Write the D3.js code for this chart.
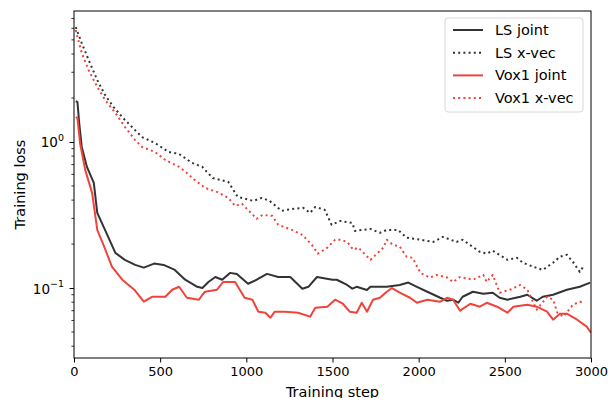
<!DOCTYPE html>
<html>
<head>
<meta charset="utf-8">
<script src="https://cdn.jsdelivr.net/npm/d3@7"></script>
<style>
  html, body { margin: 0; padding: 0; background: #fff; }
  svg { display: block; font-family: "DejaVu Sans", sans-serif; }
</style>
</head>
<body>
<div id="chart"></div>
<script>
// values: [training step, loss]
const lsJoint = [
  [10, 1.9], [20, 1.88], [30, 1.35], [45, 0.924], [75, 0.675], [115, 0.524], [135, 0.327],
  [180, 0.25], [240, 0.174], [295, 0.156], [355, 0.144], [405, 0.138], [465, 0.147],
  [520, 0.144], [585, 0.133], [645, 0.114], [715, 0.102], [745, 0.1], [780, 0.11],
  [820, 0.119], [860, 0.114], [905, 0.127], [945, 0.125], [1010, 0.107], [1060, 0.114],
  [1120, 0.125], [1185, 0.119], [1255, 0.119], [1325, 0.0989], [1360, 0.102], [1410, 0.119],
  [1500, 0.114], [1525, 0.114], [1585, 0.105], [1615, 0.099], [1640, 0.102], [1700, 0.097],
  [1720, 0.102], [1815, 0.102], [1890, 0.105], [1940, 0.109], [1990, 0.102], [2050, 0.0943],
  [2125, 0.0858], [2165, 0.0819], [2200, 0.0832], [2230, 0.0793], [2255, 0.0872],
  [2315, 0.0943], [2375, 0.0914], [2430, 0.0929], [2470, 0.0858], [2515, 0.0832],
  [2590, 0.0872], [2630, 0.09], [2685, 0.0819], [2720, 0.0872], [2780, 0.09],
  [2860, 0.0974], [2935, 0.102], [2995, 0.109]
]
const lsXvec = [
  [10, 6.11], [45, 4.75], [85, 3.64], [135, 2.65], [180, 2.1], [230, 1.73], [280, 1.48],
  [335, 1.27], [395, 1.08], [470, 0.984], [550, 0.854], [610, 0.828], [685, 0.719],
  [745, 0.675], [760, 0.644], [805, 0.567], [895, 0.533], [950, 0.421], [1040, 0.395],
  [1090, 0.414], [1135, 0.395], [1205, 0.338], [1265, 0.348], [1330, 0.354], [1370, 0.327],
  [1400, 0.359], [1455, 0.343], [1495, 0.271], [1545, 0.288], [1615, 0.279], [1630, 0.246],
  [1720, 0.254], [1775, 0.239], [1815, 0.25], [1880, 0.25], [1930, 0.221], [2010, 0.214],
  [2085, 0.207], [2140, 0.224], [2220, 0.207], [2255, 0.214], [2355, 0.177], [2395, 0.172],
  [2430, 0.18], [2515, 0.156], [2570, 0.161], [2605, 0.149], [2665, 0.14], [2720, 0.133],
  [2780, 0.149], [2820, 0.164], [2860, 0.169], [2895, 0.151], [2935, 0.129], [2955, 0.14]
]
const vox1Joint = [
  [10, 1.48], [20, 1.46], [35, 0.984], [65, 0.644], [105, 0.448], [135, 0.25], [175, 0.192],
  [220, 0.14], [280, 0.114], [350, 0.0974], [405, 0.0806], [455, 0.0872], [530, 0.0872],
  [570, 0.0974], [610, 0.102], [655, 0.0858], [725, 0.0832], [745, 0.09], [760, 0.0943],
  [830, 0.0974], [865, 0.11], [935, 0.11], [990, 0.0858], [1035, 0.0832], [1070, 0.0689],
  [1110, 0.0678], [1140, 0.0627], [1165, 0.0689], [1225, 0.0689], [1300, 0.0678],
  [1370, 0.0637], [1400, 0.0733], [1470, 0.0745], [1515, 0.0832], [1560, 0.0781],
  [1600, 0.0689], [1640, 0.0678], [1670, 0.0793], [1700, 0.0689], [1735, 0.0832],
  [1775, 0.0858], [1815, 0.0943], [1845, 0.1], [1890, 0.0929], [1950, 0.0858],
  [1990, 0.0793], [2050, 0.0832], [2125, 0.0806], [2165, 0.0858], [2200, 0.0832],
  [2240, 0.07], [2300, 0.0781], [2355, 0.0745], [2395, 0.0793], [2455, 0.0745],
  [2515, 0.0678], [2550, 0.0745], [2630, 0.0769], [2685, 0.0745], [2745, 0.0689],
  [2780, 0.0607], [2820, 0.0667], [2860, 0.0667], [2920, 0.0607], [2975, 0.0544],
  [3000, 0.0495]
]
const vox1Xvec = [
  [10, 5.83], [45, 4.06], [85, 3.1], [135, 2.38], [180, 1.94], [240, 1.58], [295, 1.27],
  [355, 1.03], [395, 0.924], [470, 0.854], [530, 0.753], [610, 0.675], [655, 0.614],
  [700, 0.55], [760, 0.485], [830, 0.455], [895, 0.414], [935, 0.365], [975, 0.377],
  [1060, 0.298], [1095, 0.317], [1150, 0.312], [1185, 0.271], [1265, 0.25], [1325, 0.231],
  [1380, 0.198], [1415, 0.172], [1470, 0.189], [1515, 0.214], [1545, 0.214], [1585, 0.207],
  [1620, 0.183], [1650, 0.189], [1720, 0.156], [1795, 0.189], [1815, 0.214], [1850, 0.198],
  [1890, 0.192], [1930, 0.164], [1965, 0.161], [2010, 0.127], [2065, 0.118], [2105, 0.123],
  [2165, 0.118], [2200, 0.11], [2240, 0.119], [2315, 0.114], [2375, 0.123], [2395, 0.11],
  [2430, 0.123], [2470, 0.0929], [2530, 0.0974], [2590, 0.105], [2630, 0.0974],
  [2685, 0.0711], [2745, 0.0872], [2780, 0.0832], [2805, 0.0678], [2840, 0.0637],
  [2895, 0.0769], [2935, 0.0806], [2955, 0.0793]
]

const seriesNames = ['LS joint', 'LS x-vec', 'Vox1 joint', 'Vox1 x-vec']
const xTicks = [0, 500, 1000, 1500, 2000, 2500, 3000]
const yMajorTicks = [0.1, 1]
const yMajorLabels = ['\u22121', '0'] // exponents of 10
const yDomain = [0.0332, 7.88]

const width = 608
const height = 398
const margin = { top: 11, right: 17, bottom: 40, left: 74 }

const black = '#333333'
const red = '#f0433a'
const series = [
  { name: seriesNames[0], data: lsJoint, color: black, dash: null },
  { name: seriesNames[1], data: lsXvec, color: black, dash: '2,3.2' },
  { name: seriesNames[2], data: vox1Joint, color: red, dash: null },
  { name: seriesNames[3], data: vox1Xvec, color: red, dash: '2,3.2' },
]

const svg = d3.select('#chart').append('svg')
  .attr('width', width)
  .attr('height', height)

const x = d3.scaleLinear().domain([0, 3000]).range([margin.left, width - margin.right])
const y = d3.scaleLog().domain(yDomain).range([height - margin.bottom, margin.top])

// minor ticks for the log axis
const yMinorTicks = []
;[0.01, 0.1, 1].forEach((base) => {
  for (let k = 2; k <= 9; k++) {
    const v = base * k
    if (v >= yDomain[0] && v <= yDomain[1]) yMinorTicks.push(v)
  }
})

// lines (clipped to the axes box)
svg.append('clipPath').attr('id', 'clip')
  .append('rect')
  .attr('x', margin.left).attr('y', margin.top)
  .attr('width', width - margin.left - margin.right)
  .attr('height', height - margin.top - margin.bottom)

const line = d3.line().x((d) => x(d[0])).y((d) => y(d[1]))

svg.append('g').attr('clip-path', 'url(#clip)')
  .selectAll('path')
  .data(series)
  .join('path')
  .attr('d', (d) => line(d.data))
  .attr('fill', 'none')
  .attr('stroke', (d) => d.color)
  .attr('stroke-width', 2)
  .attr('stroke-dasharray', (d) => d.dash)
  .attr('stroke-linejoin', 'round')

// x axis
const xAxis = svg.append('g')
  .attr('transform', `translate(0,${height - margin.bottom})`)
  .call(d3.axisBottom(x).tickValues(xTicks).tickFormat(d3.format('d')).tickSize(4.5).tickPadding(4))
xAxis.select('.domain').remove()
xAxis.selectAll('text').attr('font-size', 13).attr('fill', '#000').attr('font-family', '"DejaVu Sans", sans-serif')
xAxis.selectAll('line').attr('stroke', '#000').attr('stroke-width', 1)

// y axis
const yAxis = svg.append('g')
  .attr('transform', `translate(${margin.left},0)`)
  .call(d3.axisLeft(y).tickValues(yMajorTicks).tickFormat('').tickSize(4.5))
yAxis.select('.domain').remove()
yAxis.selectAll('line').attr('stroke', '#000').attr('stroke-width', 1)

yAxis.selectAll('.minor')
  .data(yMinorTicks)
  .join('line')
  .attr('class', 'minor')
  .attr('x1', -2.6).attr('x2', 0)
  .attr('y1', (d) => y(d)).attr('y2', (d) => y(d))
  .attr('stroke', '#000')
  .attr('stroke-width', 0.8)

const yLabels = svg.append('g')
  .selectAll('text')
  .data(yMajorTicks)
  .join('text')
  .attr('x', margin.left - 10)
  .attr('y', (d) => y(d) + 5.5)
  .attr('text-anchor', 'end')
  .attr('font-size', 13.5)
  .attr('fill', '#000')
yLabels.append('tspan').text('10')
yLabels.append('tspan')
  .attr('dy', -6.5)
  .attr('font-size', 9.5)
  .text((d, i) => yMajorLabels[i])

// frame
svg.append('rect')
  .attr('x', margin.left).attr('y', margin.top)
  .attr('width', width - margin.left - margin.right)
  .attr('height', height - margin.top - margin.bottom)
  .attr('fill', 'none')
  .attr('stroke', '#000')
  .attr('stroke-width', 1)

// axis titles
svg.append('text')
  .attr('x', (margin.left + width - margin.right) / 2)
  .attr('y', 397)
  .attr('text-anchor', 'middle')
  .attr('font-size', 14.5)
  .attr('fill', '#000')
  .text('Training step')

svg.append('text')
  .attr('transform', `translate(25,${(margin.top + height - margin.bottom) / 2}) rotate(-90)`)
  .attr('text-anchor', 'middle')
  .attr('font-size', 14.5)
  .attr('fill', '#000')
  .text('Training loss')

// legend
const legend = svg.append('g').attr('transform', 'translate(445,18)')
legend.append('rect')
  .attr('width', 138).attr('height', 94)
  .attr('rx', 3)
  .attr('fill', 'rgba(255,255,255,0.8)')
  .attr('stroke', '#d8d8d8')
  .attr('stroke-width', 1)

const items = legend.selectAll('.item')
  .data(series)
  .join('g')
  .attr('class', 'item')
  .attr('transform', (d, i) => `translate(0,${12 + i * 22.7})`)

items.append('line')
  .attr('x1', 8).attr('x2', 38)
  .attr('stroke', (d) => d.color)
  .attr('stroke-width', 2)
  .attr('stroke-dasharray', (d) => d.dash)

items.append('text')
  .attr('x', 50)
  .attr('y', 5)
  .attr('font-size', 14.5)
  .attr('fill', '#000')
  .text((d) => d.name)
</script>
</body>
</html>
